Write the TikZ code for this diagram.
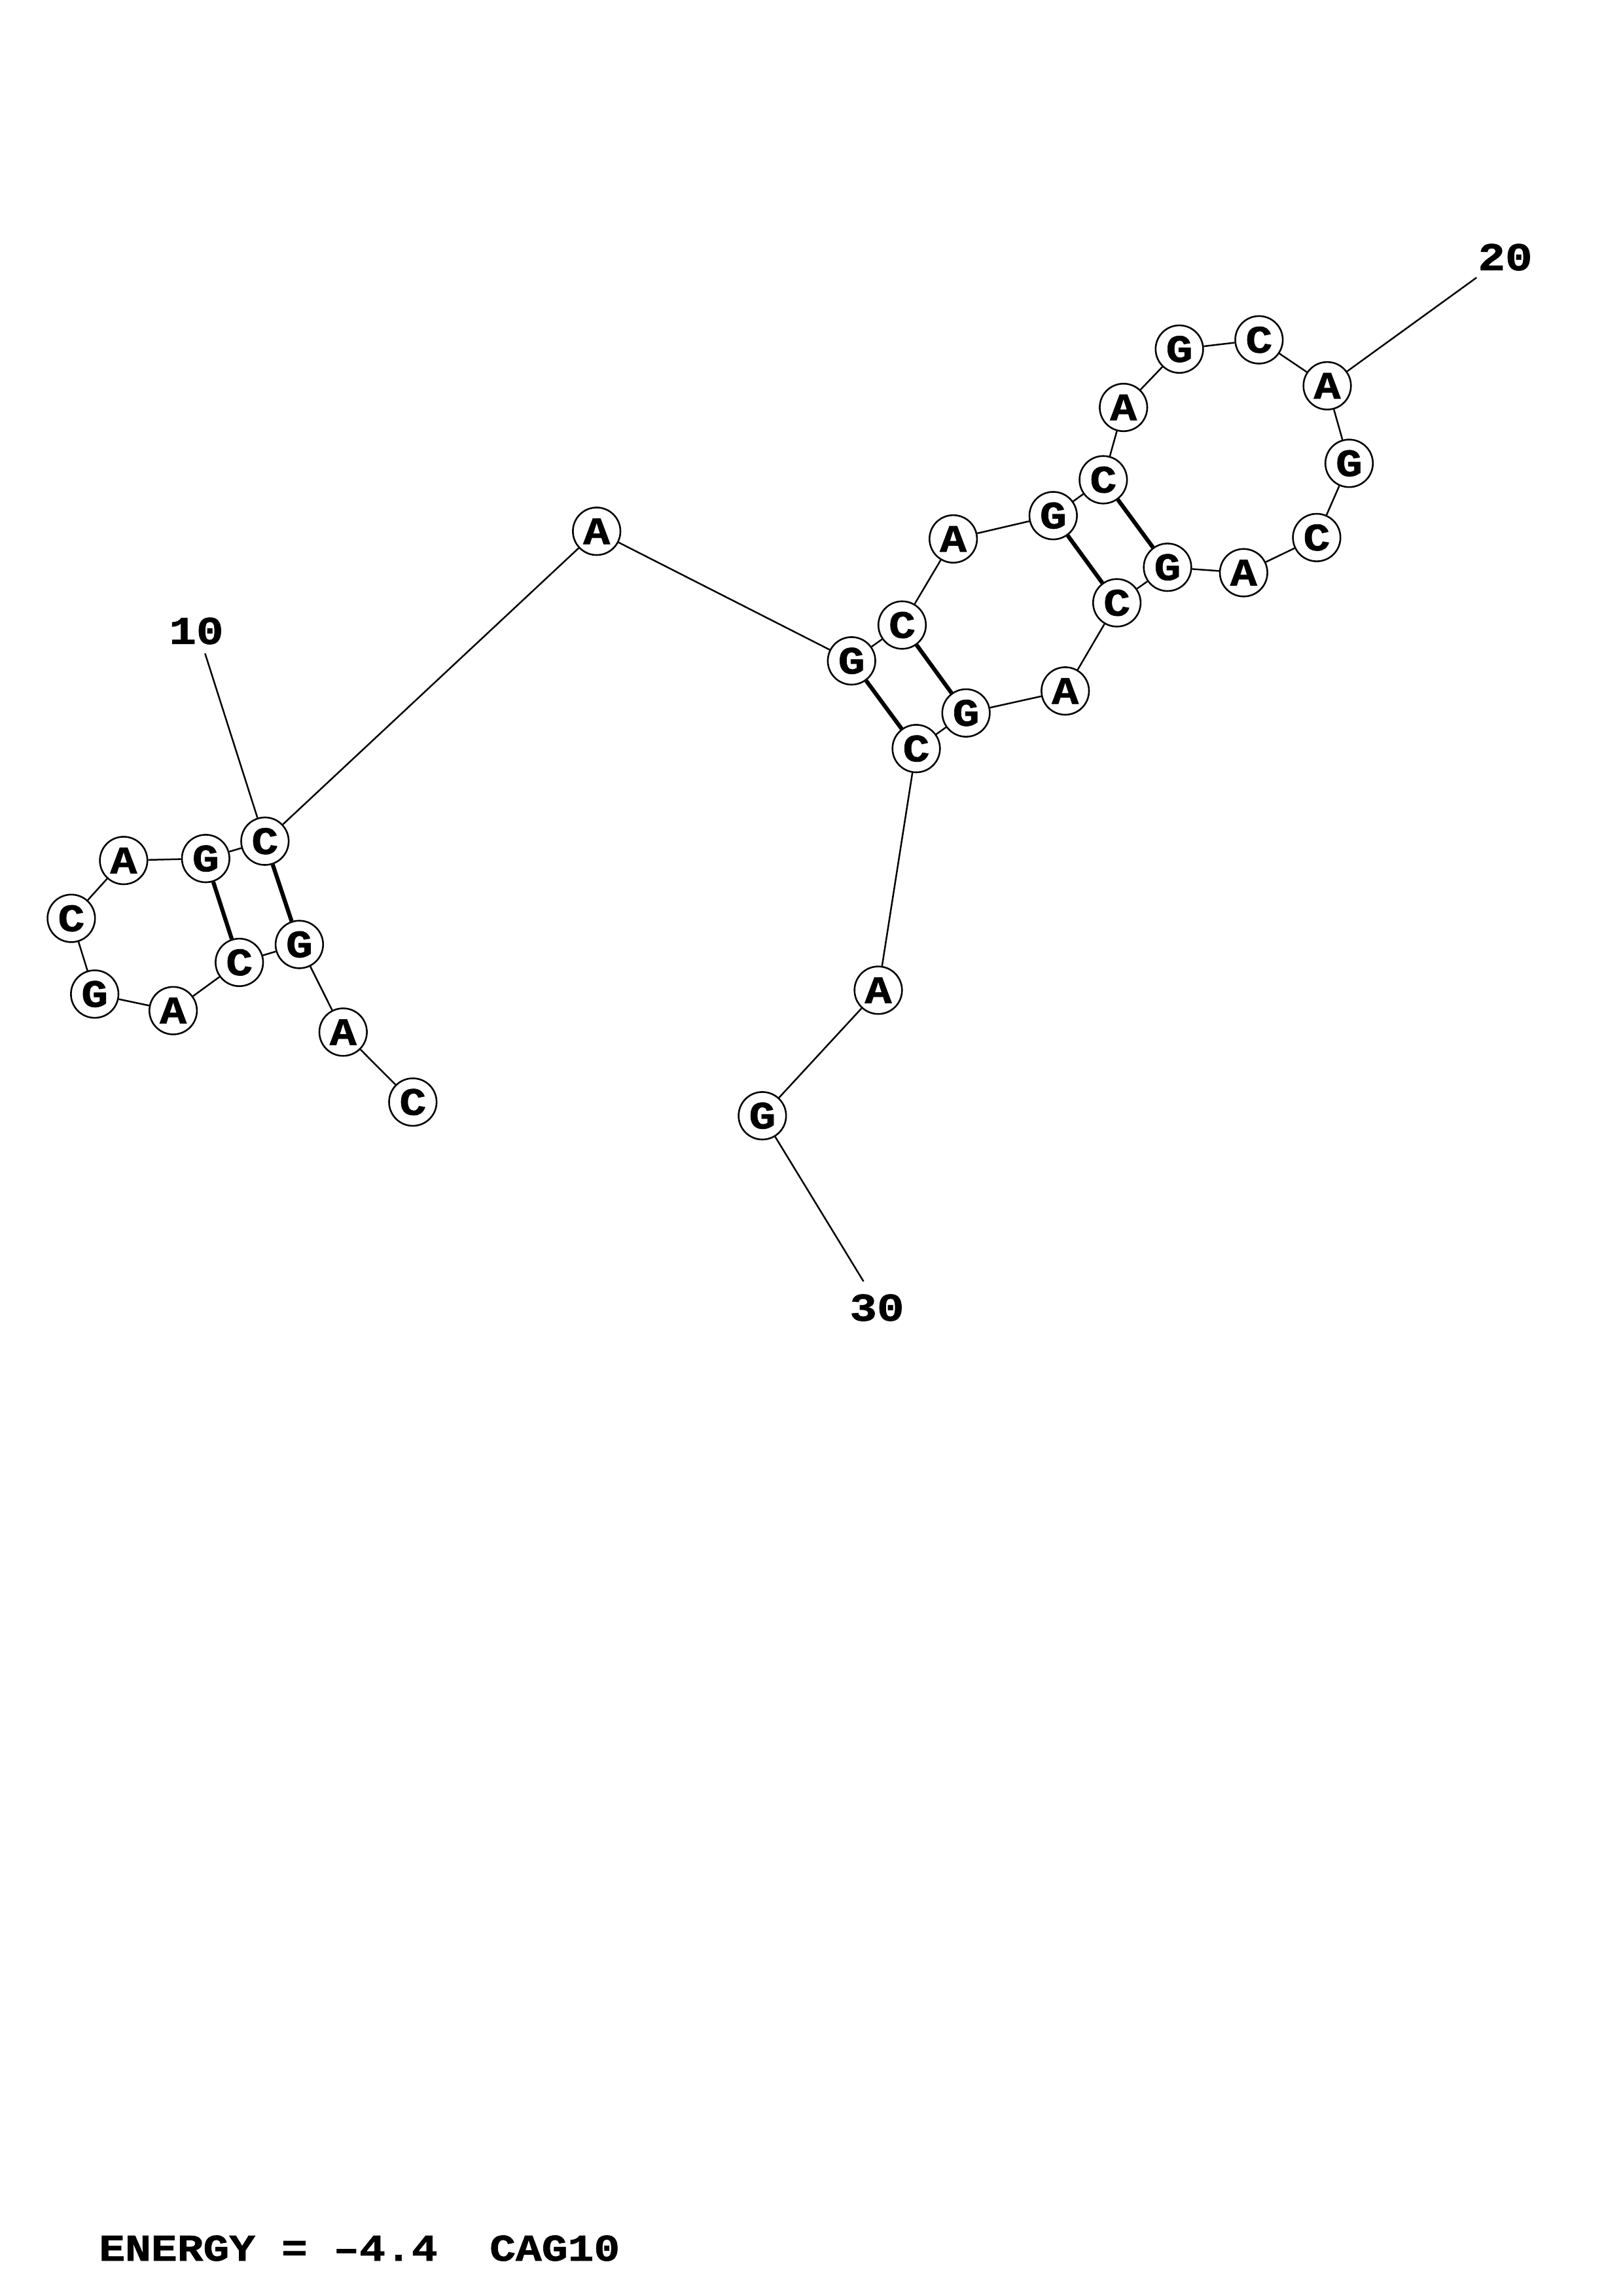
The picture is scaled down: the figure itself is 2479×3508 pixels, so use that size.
\documentclass[tikz,border=0pt]{standalone}
\usepackage{fontspec}
\newfontfamily\cour{Liberation Mono}[FakeStretch=1.15,BoldFeatures={FakeBold=1.2}]
\begin{document}
\begin{tikzpicture}[x=0.08471mm,y=-0.08471mm,
  base/.style={circle,draw,line width=0.62pt,fill=white,inner sep=0pt,minimum size=6.15mm,
    font=\cour\bfseries\fontsize{14.3}{15}\selectfont},
  bb/.style={line width=0.6pt},
  bp/.style={line width=1.5pt},
  numlab/.style={font=\cour\bfseries\fontsize{14.5}{15}\selectfont,inner sep=0pt},
  energy/.style={font=\cour\bfseries\fontsize{13.9}{14}\selectfont,inner sep=0pt,anchor=west}]
\fill[white] (0,0) rectangle (2479,3508);
\useasboundingbox (0,0) rectangle (2479,3508);
% nucleotides
\node[base] (n1)  at (630.8,1683.8) {C};
\node[base] (n2)  at (524.3,1576.9) {A};
\node[base] (n3)  at (457.4,1443.0) {G};
\node[base] (n4)  at (365.7,1470.4) {C};
\node[base] (n5)  at (264.6,1544.1) {A};
\node[base] (n6)  at (144.7,1518.8) {G};
\node[base] (n7)  at (108.9,1403.1) {C};
\node[base] (n8)  at (188.9,1314.7) {A};
\node[base] (n9)  at (314.3,1311.7) {G};
\node[base] (n10) at (404.8,1285.2) {C};
\node[base] (n11) at (911.7,811.7) {A};
\node[base] (n12) at (1301.2,1009.7) {G};
\node[base] (n13) at (1378.5,955.0) {C};
\node[base] (n14) at (1456.6,823.4) {A};
\node[base] (n15) at (1609.3,787.8) {G};
\node[base] (n16) at (1685.8,733.0) {C};
\node[base] (n17) at (1716.7,622.5) {A};
\node[base] (n18) at (1802.1,533.4) {G};
\node[base] (n19) at (1923.8,519.2) {C};
\node[base] (n20) at (2028.0,589.4) {A};
\node[base] (n21) at (2061.5,707.9) {G};
\node[base] (n22) at (2011.9,821.3) {C};
\node[base] (n23) at (1900.3,875.0) {A};
\node[base] (n24) at (1784.0,866.7) {G};
\node[base] (n25) at (1706.6,921.0) {C};
\node[base] (n26) at (1627.7,1055.7) {A};
\node[base] (n27) at (1476.1,1089.3) {G};
\node[base] (n28) at (1400.0,1143.7) {C};
\node[base] (n29) at (1342.0,1512.9) {A};
\node[base] (n30) at (1164.9,1704.7) {G};
% backbone
\foreach \a/\b in {1/2,2/3,3/4,4/5,5/6,6/7,7/8,8/9,9/10,10/11,11/12,12/13,13/14,14/15,15/16,16/17,17/18,18/19,19/20,20/21,21/22,22/23,23/24,24/25,25/26,26/27,27/28,28/29,29/30}
  \draw[bb] (n\a) -- (n\b);
% base pairs
\foreach \a/\b in {3/10,4/9,12/28,13/27,15/25,16/24}
  \draw[bp] (n\a) -- (n\b);
% numbering ticks
\coordinate (t10) at (313.3,998.3);
\coordinate (t20) at (2256.2,424.1);
\coordinate (t30) at (1319.5,1957.8);
\draw[bb] (n10) -- (t10);
\draw[bb] (n20) -- (t20);
\draw[bb] (n30) -- (t30);
\node[numlab] (l10) at (300,964) {10};
\node[numlab] (l20) at (2300,393) {20};
\node[numlab] (l30) at (1340,1998) {30};
% energy line
\node[energy] (en) at (150.5,3435) {ENERGY = –4.4\ \ CAG10};
\end{tikzpicture}
\end{document}
